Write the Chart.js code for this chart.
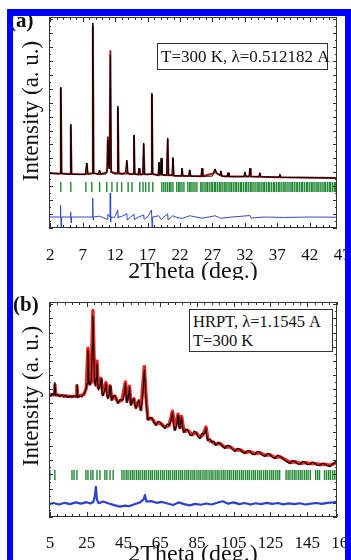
<!DOCTYPE html>
<html><head><meta charset="utf-8">
<script src="https://cdn.jsdelivr.net/npm/chart.js@4.4.1/dist/chart.umd.min.js"></script>
<style>
html,body{margin:0;padding:0;background:#fff;width:351px;height:560px;overflow:hidden;}
#wrap{position:relative;width:351px;height:560px;font-family:'Liberation Serif','Times New Roman',serif;}
canvas{position:absolute;left:0;}
#ca{top:0;} #cb{top:280px;}
.box{position:absolute;border:1px solid #333;background:#fff;color:#111;white-space:nowrap;box-sizing:border-box;}
.lbl{position:absolute;font-weight:bold;font-size:21px;line-height:21px;color:#111;}
.ytitle{position:absolute;font-size:23px;line-height:23px;color:#111;white-space:nowrap;transform:translate(-50%,-50%) rotate(-90deg);}
#frame{position:absolute;left:7px;top:9px;width:344px;height:600px;border-left:6px solid #0000ff;border-top:7px solid #0000ff;border-right:6px solid #0000ff;box-sizing:border-box;pointer-events:none;}
</style></head>
<body>
<div id="wrap">
<canvas id="ca" width="351" height="280"></canvas>
<canvas id="cb" width="351" height="280"></canvas>
<div class="box" style="left:157px;top:43px;width:171px;height:27px;font-size:17px;line-height:25px;padding-left:3px;">T=300 K, λ=0.512182 A</div>
<div class="box" style="left:189px;top:309px;width:144px;height:43px;font-size:16.5px;line-height:19px;padding:2px 3px;">HRPT, λ=1.1545 A<br>T=300 K</div>
<div class="ytitle" style="left:30px;top:111px;">Intensity (a. u.)</div>
<div class="ytitle" style="left:30px;top:396px;">Intensity (a. u.)</div>
<div class="lbl" style="left:9px;top:10px;">(a)</div>
<div class="lbl" style="left:13px;top:294px;">(b)</div>
<div id="frame"></div>
</div>
<script>
// ---------- Panel (a): synchrotron XRD ----------
const xTickLabelsA = [2, 7, 12, 17, 22, 27, 32, 37, 42, 47];
const obsA = [[1.8,26.0],[3.3,25.6],[3.5,25.8],[3.62,66.8],[3.74,25.8],[4.9,25.4],[5.04,25.6],[5.16,49.3],[5.28,25.6],[6.5,25.3],[7.4,25.5],[7.63,30.8],[7.8,25.6],[8.35,25.6],[8.45,26.0],[8.56,97.2],[8.68,26.0],[9.4,25.5],[9.6,27.5],[9.8,25.5],[10.6,25.6],[10.8,28.0],[10.87,41.7],[11.0,30.0],[11.15,28.0],[11.26,82.0],[11.38,26.5],[12.0,25.5],[12.3,25.8],[12.42,57.8],[12.54,25.8],[13.2,25.4],[13.6,26.5],[13.8,32.2],[13.95,25.8],[14.5,25.3],[14.78,25.8],[14.9,44.1],[15.02,25.6],[15.55,25.3],[15.7,28.4],[15.85,25.3],[16.28,25.5],[16.4,40.3],[16.52,25.5],[17.0,25.2],[17.54,25.6],[17.66,64.0],[17.78,25.6],[18.6,25.0],[18.75,31.3],[18.9,25.2],[19.0,25.4],[19.1,33.2],[19.22,25.2],[19.95,25.0],[20.1,42.7],[20.22,25.0],[20.75,25.0],[20.9,33.2],[21.05,24.8],[22.15,24.7],[22.3,28.4],[22.45,24.7],[23.35,24.6],[23.5,27.5],[23.65,24.6],[25.25,24.5],[25.4,28.4],[25.55,24.5],[27.0,24.6],[27.2,26.2],[27.4,28.0],[27.6,26.3],[27.9,25.5],[28.15,25.0],[28.3,27.0],[28.45,24.6],[29.25,24.4],[29.4,26.1],[29.55,24.4],[31.0,24.3],[31.85,24.4],[32.0,26.5],[32.15,24.5],[32.65,24.4],[32.8,28.4],[32.95,24.4],[34.15,24.3],[34.3,26.1],[34.45,24.3],[36.0,24.1],[37.25,24.1],[37.4,25.3],[37.55,24.0],[40.0,23.9],[43.0,23.8],[46.2,23.7]];
const calcA = [[1.8,26.0],[3.5,25.8],[3.62,66.0],[3.74,25.8],[5.04,25.6],[5.16,48.5],[5.28,25.6],[7.5,25.5],[7.63,30.5],[7.76,25.6],[8.44,26.0],[8.56,95.5],[8.68,26.0],[9.48,25.5],[9.6,27.0],[9.72,25.5],[10.74,26.5],[10.87,43.0],[11.0,30.0],[11.14,28.5],[11.26,83.9],[11.38,26.5],[12.3,25.8],[12.42,56.5],[12.54,25.8],[13.68,25.8],[13.8,31.5],[13.92,25.8],[14.78,25.6],[14.9,43.5],[15.02,25.6],[15.58,25.3],[15.7,28.0],[15.82,25.3],[16.28,25.5],[16.4,39.5],[16.52,25.5],[17.54,25.6],[17.66,63.0],[17.78,25.6],[18.63,25.0],[18.75,30.8],[18.87,25.2],[18.98,25.3],[19.1,32.5],[19.22,25.2],[19.98,25.0],[20.1,42.0],[20.22,25.0],[20.78,25.0],[20.9,33.0],[21.02,24.8],[22.18,24.7],[22.3,28.0],[22.42,24.7],[23.38,24.6],[23.5,27.2],[23.62,24.6],[25.28,24.5],[25.4,28.0],[25.52,24.5],[27.2,26.0],[27.4,27.6],[27.6,26.0],[28.18,25.0],[28.3,26.8],[28.42,24.6],[29.28,24.4],[29.4,25.9],[29.52,24.4],[31.88,24.4],[32.0,26.3],[32.12,24.5],[32.68,24.4],[32.8,28.0],[32.92,24.4],[34.18,24.3],[34.3,25.9],[34.42,24.3],[37.28,24.1],[37.4,25.2],[37.52,24.0],[46.2,23.7]];
const braggA = [3.62,5.16,7.48,8.4,9.6,10.7,11.5,12.3,13.0,14.0,14.6,15.8,16.3,16.7,17.2,17.8,19.2,19.5,19.8,20.1,20.4,20.6,20.9,21.5,21.8,22.0,22.3,22.6,23.2,23.5,23.7,24.0,24.3,24.6,25.2,25.4,25.7,26.0,26.2,26.5,26.8,27.0,27.3,27.5,27.8,28.1,28.3,28.6,28.9,29.1,29.4,29.7,29.9,30.2,30.5,30.7,31.0,31.3,31.5,31.8,32.1,32.3,32.6,32.9,33.1,33.4,33.7,34.0,34.2,34.5,34.8,35.0,35.3,35.6,35.8,36.1,36.4,36.6,36.9,37.2,37.4,37.7,38.0,38.2,38.5,38.8,39.1,39.3,39.6,39.9,40.1,40.4,40.7,40.9,41.2,41.5,41.7,42.0,42.3,42.5,42.8,43.1,43.3,43.6,43.9,44.2,44.4,44.7,45.0,45.2,45.5,45.8,46.0];
const diffA = [[1.8,5.2],[3.5,5.2],[3.58,10.9],[3.66,0.2],[3.74,5.2],[5.1,5.2],[5.14,7.6],[5.2,2.4],[5.26,5.2],[7.6,5.2],[8.5,5.2],[8.54,14.2],[8.6,3.8],[8.66,5.2],[9.6,5.6],[10.85,4.0],[10.9,6.5],[11.2,5.2],[11.24,16.6],[11.3,2.8],[11.36,5.2],[11.9,5.0],[12.4,8.5],[12.46,4.7],[12.5,5.2],[13.0,5.4],[13.8,6.8],[13.86,3.8],[14.4,5.2],[14.9,6.5],[14.95,4.0],[15.6,5.2],[16.4,6.2],[16.46,4.2],[17.0,5.2],[17.6,8.5],[17.7,0.2],[17.78,5.2],[18.7,5.8],[19.1,4.0],[19.5,5.2],[20.1,6.7],[20.15,3.8],[20.9,5.8],[21.5,5.0],[22.3,4.5],[23.5,5.8],[25.4,4.6],[27.4,5.8],[28.3,4.6],[30.0,5.2],[32.8,5.9],[33.0,4.7],[35.0,5.2],[38.0,5.0],[42.0,5.2],[46.2,5.1]];

// ---------- Panel (b): HRPT neutron ----------
const xTickLabelsB = [5, 25, 45, 65, 85, 105, 125, 145, 165];
const obsB = [[4.5,56.9],[5.5,56.2],[6.4,57.4],[7.2,56.5],[7.7,62.6],[8.2,56.4],[9.3,57.1],[10.4,56.0],[11.5,56.8],[12.6,55.9],[13.7,56.6],[14.8,55.6],[15.9,56.4],[17.0,55.7],[18.1,56.5],[19.2,56.0],[19.7,61.6],[20.2,55.6],[21.3,56.3],[22.4,55.8],[23.5,57.3],[24.3,58.5],[25.2,62.0],[25.7,77.5],[26.2,63.0],[26.8,61.2],[27.5,64.0],[28.1,80.0],[28.4,93.5],[28.8,78.0],[29.3,63.5],[29.8,61.0],[30.3,65.0],[30.6,71.3],[31.0,62.5],[31.4,59.0],[32.1,60.5],[32.8,64.2],[33.3,58.0],[33.8,56.5],[34.6,58.2],[35.1,60.0],[35.5,62.0],[35.9,57.0],[36.6,55.0],[37.2,57.5],[37.7,60.9],[38.2,56.3],[38.7,54.2],[39.5,56.5],[40.4,56.4],[41.2,54.6],[42.0,52.8],[43.1,54.6],[44.2,54.2],[45.1,55.2],[45.7,58.5],[46.1,62.1],[46.5,56.5],[46.9,53.3],[47.6,55.2],[48.3,60.3],[48.7,54.8],[49.1,51.9],[49.9,53.8],[50.7,55.1],[51.2,52.4],[51.8,50.5],[52.6,52.6],[53.4,54.2],[54.0,51.3],[54.5,49.6],[55.4,55.0],[55.9,62.0],[56.4,68.5],[56.9,60.5],[57.4,53.0],[58.3,45.0],[59.4,46.4],[60.5,45.8],[61.6,44.0],[62.7,42.6],[63.8,44.6],[64.9,44.0],[66.2,42.5],[67.6,41.2],[68.7,43.3],[69.8,42.6],[70.8,44.5],[71.7,48.6],[72.3,43.0],[73.0,40.3],[73.9,42.5],[74.7,47.2],[75.2,42.0],[75.7,41.2],[76.2,44.0],[76.6,46.3],[77.2,41.5],[77.9,39.3],[79.0,41.0],[80.1,40.3],[81.2,37.9],[82.3,37.9],[83.4,40.0],[84.5,39.3],[85.5,37.5],[86.6,36.5],[87.5,38.8],[88.3,38.4],[89.3,39.0],[89.9,41.2],[90.4,37.2],[91.0,35.6],[92.1,36.4],[93.2,34.7],[94.2,35.3],[95.3,33.3],[96.4,34.8],[97.5,34.2],[98.9,32.9],[100.2,31.9],[101.5,33.4],[102.9,32.8],[104.3,31.6],[105.7,30.5],[107.0,32.0],[108.4,31.4],[109.8,30.1],[111.1,29.6],[112.5,31.0],[113.8,30.5],[115.2,29.0],[116.6,29.1],[117.9,30.6],[119.3,30.0],[120.7,28.6],[122.0,28.2],[123.4,29.6],[124.7,29.1],[126.0,27.8],[127.4,27.2],[128.8,28.8],[130.2,28.2],[131.5,27.4],[132.9,26.3],[134.2,25.6],[135.6,24.9],[136.9,26.3],[138.3,25.8],[139.7,24.7],[141.1,24.5],[142.4,25.9],[143.8,25.4],[145.1,24.3],[146.5,24.5],[147.8,25.6],[149.2,24.9],[150.5,24.0],[151.9,24.0],[153.3,25.0],[154.7,24.5],[156.0,23.9],[157.4,23.5],[158.5,24.6],[159.6,24.9],[160.4,25.8],[161.2,25.4]];
const calcB = [[4.5,56.7],[7.3,57.0],[7.7,61.5],[8.1,56.8],[12.0,56.4],[16.0,56.0],[19.3,56.2],[19.7,61.0],[20.1,56.0],[23.5,57.0],[24.8,60.0],[25.7,78.5],[26.5,62.0],[27.4,62.5],[28.4,96.0],[29.3,63.0],[29.9,61.5],[30.6,72.5],[31.3,60.0],[32.8,64.5],[33.8,57.0],[35.5,62.5],[36.6,55.8],[37.7,61.0],[38.7,54.8],[40.4,56.2],[42.0,53.4],[44.2,54.4],[46.1,62.8],[46.9,53.8],[48.3,60.8],[49.1,52.5],[50.7,55.0],[51.8,51.0],[53.4,54.0],[54.5,50.0],[56.4,70.0],[57.3,56.0],[58.3,45.6],[60.5,45.8],[62.7,43.2],[64.9,43.8],[67.6,41.8],[69.8,42.5],[71.7,49.2],[73.0,40.8],[74.7,47.8],[75.7,41.6],[76.6,46.8],[77.9,39.8],[80.1,40.2],[82.3,38.3],[84.5,39.2],[86.6,37.0],[88.3,38.3],[89.9,41.8],[91.0,36.0],[93.2,35.0],[95.3,33.8],[97.5,34.2],[100.2,32.4],[102.9,32.7],[105.7,31.0],[108.4,31.3],[111.1,30.0],[113.8,30.4],[116.6,29.5],[119.3,29.9],[122.0,28.7],[124.7,29.0],[127.4,27.7],[130.2,28.0],[132.9,26.7],[135.6,25.4],[138.3,25.7],[141.1,24.9],[143.8,25.3],[146.5,24.9],[149.2,24.9],[151.9,24.4],[154.7,24.5],[157.4,24.0],[159.6,24.8],[161.2,25.4]];
const braggB = [5.0,7.7,17.0,18.1,19.7,24.6,25.7,27.3,28.4,30.6,32.2,34.9,36.0,37.7,39.4,44.2,45.3,46.5,47.5,48.7,49.8,50.8,52.0,53.1,54.1,55.3,56.4,57.4,58.6,59.7,60.7,61.9,63.0,64.0,65.2,66.3,67.3,68.5,69.6,70.6,71.8,72.9,73.9,75.1,76.2,77.2,78.4,79.5,80.5,81.7,82.8,83.8,85.0,86.1,87.1,88.3,89.4,90.4,91.6,92.7,93.7,94.9,96.0,97.0,98.2,99.3,100.3,101.5,102.6,103.6,104.8,105.9,106.9,108.1,109.2,110.2,111.4,112.5,113.5,114.7,115.8,116.8,118.0,119.1,120.1,121.3,122.4,123.4,124.6,125.7,126.7,127.9,129.0,130.0,133.5,134.6,135.6,136.8,137.9,138.9,140.1,141.2,142.2,143.4,144.5,145.5,146.7,149.6,150.7,151.7,154.4,155.5,156.6,157.6,158.8,159.9,160.9];
const diffB = [[4.5,6.0],[7,6.5],[10,5.8],[13,6.6],[16,6.0],[19,6.8],[22,6.2],[25,6.9],[27,6.3],[28.6,7.0],[29.4,9.5],[30.0,14.0],[30.6,8.0],[31.5,6.4],[34,7.2],[37,6.3],[40,5.5],[43,4.8],[46,5.3],[48,5.0],[51,5.9],[54,6.8],[56,8.2],[56.7,10.2],[57.5,7.2],[60,7.4],[63,6.6],[66,7.0],[69,6.3],[72,5.6],[75,6.8],[78,6.0],[81,5.4],[84,6.1],[87,5.7],[90,6.3],[93,5.8],[96,6.6],[99,7.3],[102,6.2],[105,6.8],[108,6.0],[111,6.5],[114,5.8],[117,6.4],[120,6.0],[123,6.6],[126,6.1],[129,6.5],[132,5.9],[135,6.3],[138,6.0],[141,6.4],[144,5.8],[147,6.2],[150,6.5],[153,6.1],[156,6.6],[159,6.8],[161.2,7.0]];

const BRAGG_ROW_A = 19.4;
const BRAGG_ROW_B = 19.5;

Chart.defaults.font.family = "'Liberation Serif','Times New Roman',serif";
Chart.defaults.color = '#111';

const framePlugin = {
  id: 'frame',
  afterDatasetsDraw(chart, args, o) {
    const {ctx, chartArea: a, scales: {x, y}} = chart;
    ctx.save();
    ctx.strokeStyle = '#333';
    ctx.lineWidth = 1;
    ctx.beginPath();
    let k = 0;
    for (let v = o.xStart; v <= x.max + 1e-9; v += o.xMinor, k++) {
      const px = Math.round(x.getPixelForValue(v)) + 0.5;
      const len = (k % o.xMajorEvery === 0) ? 5 : 3;
      ctx.moveTo(px, a.bottom); ctx.lineTo(px, a.bottom - len);
      ctx.moveTo(px, a.top); ctx.lineTo(px, a.top + len);
    }
    k = 0;
    for (let v = y.min; v <= y.max + 1e-9; v += o.yStep, k++) {
      const py = Math.round(y.getPixelForValue(v)) + 0.5;
      const len = (k % 2 === 0) ? 4 : 2;
      ctx.moveTo(a.left, py); ctx.lineTo(a.left + len, py);
      ctx.moveTo(a.right, py); ctx.lineTo(a.right - len, py);
    }
    ctx.stroke();
    ctx.strokeRect(Math.round(a.left) + 0.5, Math.round(a.top) + 0.5, Math.round(a.right - a.left) - 1, Math.round(a.bottom - a.top) - 1);
    ctx.restore();
  }
};

const pts = arr => arr.map(p => ({x: p[0], y: p[1]}));
const row = (arr, yv) => arr.map(v => ({x: v, y: yv}));

function makeChart(id, c) {
  const line = {showLine: true, pointRadius: 0, tension: 0, borderJoinStyle: 'round', borderCapStyle: 'round'};
  return new Chart(document.getElementById(id), {
    type: 'scatter',
    plugins: [framePlugin],
    data: {datasets: [
      Object.assign({data: pts(c.obs), borderColor: '#000', borderWidth: c.obsW, order: 0}, line),
      Object.assign({data: pts(c.calc), borderColor: c.calcColor, borderWidth: c.calcW, order: 1}, line),
      {data: row(c.bragg, c.braggY), showLine: false, pointStyle: 'line', pointRotation: 90, pointRadius: 5,
       pointBorderColor: 'rgb(30,135,50)', pointBackgroundColor: 'rgb(30,135,50)', pointBorderWidth: 1.4, order: 2},
      Object.assign({data: pts(c.diff), borderColor: c.diffColor, borderWidth: c.diffW, order: 3}, line)
    ]},
    options: {
      responsive: false, animation: false, devicePixelRatio: 1, events: [],
      layout: {padding: {top: c.padTop, right: 14, left: 0, bottom: 0}},
      plugins: {legend: {display: false}, tooltip: {enabled: false},
        frame: {xStart: c.xStart, xMinor: c.xMinor, xMajorEvery: c.xMajorEvery, yStep: 3.3}},
      scales: {
        x: {type: 'linear', min: c.xmin, max: c.xmax,
          grid: {display: false}, border: {display: false},
          ticks: {autoSkip: false, maxRotation: 0, minRotation: 0, padding: c.tickPad, font: {size: 17}, color: '#111',
                  callback: v => String(v)},
          afterBuildTicks: s => { s.ticks = c.labels.map(v => ({value: v})); },
          afterFit: s => { s.height = c.xH; s.paddingLeft = 0; s.paddingRight = 0; },
          title: {display: true, text: '2Theta (deg.)', color: '#111', font: {size: 24, lineHeight: c.titleLH}, padding: {top: 0, bottom: 0}}
        },
        y: {type: 'linear', min: 0, max: 100,
          grid: {display: false}, border: {display: false}, ticks: {display: false},
          afterFit: s => { s.width = 49; },
          title: {display: false}
        }
      }
    }
  });
}

makeChart('ca', {obs: obsA, calc: calcA, bragg: braggA, braggY: BRAGG_ROW_A, diff: diffA, labels: xTickLabelsA,
  xmin: 1.8, xmax: 46.2, xStart: 2, xMinor: 1, xMajorEvery: 5,
  obsW: 1, calcW: 2, calcColor: 'rgb(165,30,30)', diffColor: 'rgb(50,70,205)', diffW: 1,
  padTop: 17, xH: 52, tickPad: 9, titleLH: 0.72});

makeChart('cb', {obs: obsB, calc: calcB, bragg: braggB, braggY: BRAGG_ROW_B, diff: diffB, labels: xTickLabelsB,
  xmin: 4.5, xmax: 161.2, xStart: 5, xMinor: 4, xMajorEvery: 5,
  obsW: 1.1, calcW: 3.5, calcColor: 'rgb(232,40,32)', diffColor: 'rgb(45,65,205)', diffW: 2.2,
  padTop: 22, xH: 43, tickPad: 8, titleLH: 0.4});
</script>
</body></html>
